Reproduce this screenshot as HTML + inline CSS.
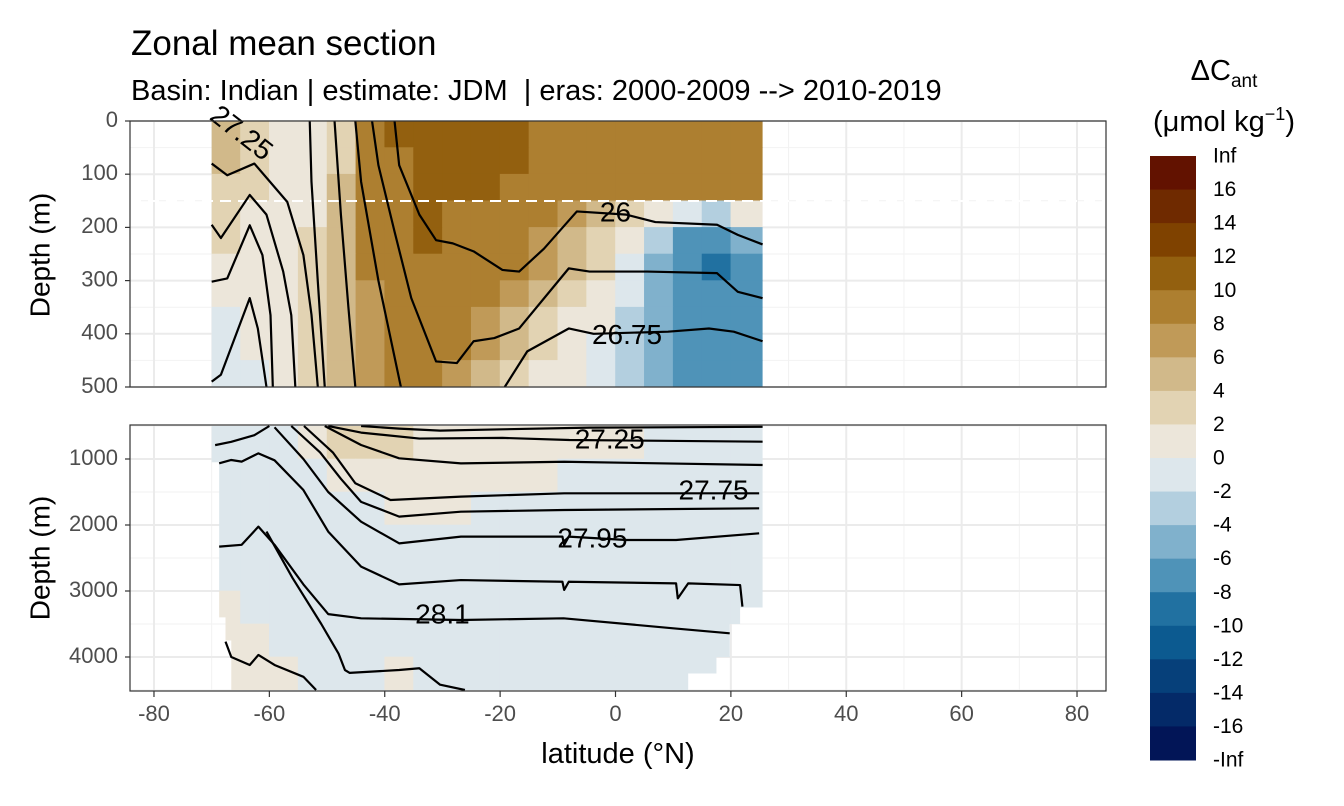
<!DOCTYPE html>
<html><head><meta charset="utf-8"><style>
html,body{margin:0;padding:0;background:#fff;}
svg{display:block;font-family:"Liberation Sans",sans-serif;}
</style></head><body>
<svg id="chart" width="1344" height="806" viewBox="0 0 1344 806" xmlns="http://www.w3.org/2000/svg">
<rect x="0" y="0" width="1344" height="806" fill="#fff"/>
<text x="131" y="55" font-size="35" fill="#000">Zonal mean section</text>
<text x="131" y="100" font-size="29" fill="#000">Basin: Indian | estimate: JDM&#160; | eras: 2000-2009 --&gt; 2010-2019</text>
<g id="gTopGrid"></g>
<g id="gBotGrid"></g>
<defs>
<clipPath id="clipTop"><rect id="clipTopRect" x="0" y="121" width="0" height="266"/></clipPath>
<clipPath id="clipBot"><polygon id="clipBotPoly" points=""/></clipPath>
<clipPath id="panelTop"><rect x="130" y="121" width="976" height="266"/></clipPath>
<clipPath id="panelBot"><rect x="130" y="425" width="976" height="266"/></clipPath>
</defs>
<g id="gTopCells" clip-path="url(#clipTop)"></g>
<g id="gBotCells" clip-path="url(#clipBot)"></g>
<line x1="130" y1="201" x2="1106" y2="201" id="mldLine" stroke="#fff" stroke-width="2" stroke-dasharray="11,7"/>
<g id="gTopLines" clip-path="url(#panelTop)"></g>
<g id="gBotLines" clip-path="url(#panelBot)"></g>
<g id="gLabels" font-size="28" fill="#000"></g>
<rect x="130" y="121" width="976" height="266" fill="none" stroke="#333" stroke-width="1.2"/>
<rect x="130" y="425" width="976" height="266" fill="none" stroke="#333" stroke-width="1.2"/>
<g id="gAxes" font-size="22" fill="#4d4d4d"></g>
<text x="42" y="255" font-size="28" text-anchor="middle" transform="rotate(-90 42 255)" dominant-baseline="middle">Depth (m)</text>
<text x="42" y="558" font-size="28" text-anchor="middle" transform="rotate(-90 42 558)" dominant-baseline="middle">Depth (m)</text>
<text x="618" y="763" font-size="29" text-anchor="middle">latitude (°N)</text>
<text x="1224" y="80" font-size="29" text-anchor="middle">ΔC<tspan font-size="19" dy="7">ant</tspan></text>
<text x="1224" y="131" font-size="29" text-anchor="middle">(μmol kg<tspan font-size="18" dy="-11">−1</tspan><tspan dy="11">)</tspan></text>
<g id="gLegend"></g>
</svg>
<script>
// ---- data ----
const latCenters = [-67.5,-62.5,-57.5,-52.5,-47.5,-42.5,-37.5,-32.5,-27.5,-22.5,-17.5,-12.5,-7.5,-2.5,2.5,7.5,12.5,17.5,22.5];
const topDepthEdges = [0,50,100,150,200,250,300,350,400,450,500];
const topValues = [
[5,3,1,1,3,9,11,11,11,11,11,9,9,9,9,9,9,9,9],
[5,3,1,1,3,9,9,11,11,11,11,9,9,9,9,9,9,9,9],
[3,3,1,1,5,9,9,11,11,11,9,9,9,9,9,9,9,9,9],
[3,1,1,1,5,9,9,11,9,9,9,9,7,5,3,1,-1,-3,1],
[3,1,1,3,5,9,9,11,9,9,9,7,5,3,1,-3,-7,-7,-5],
[1,1,1,3,5,9,9,9,9,9,9,7,5,3,-1,-5,-7,-9,-7],
[1,1,1,3,5,7,9,9,9,9,7,5,3,1,-1,-5,-7,-7,-7],
[-1,1,1,3,5,7,9,9,9,7,5,3,1,1,-3,-5,-7,-7,-7],
[-1,1,1,3,5,7,9,9,9,7,5,3,1,-1,-3,-5,-7,-7,-7],
[-1,-1,1,3,5,7,9,9,7,5,3,1,1,-1,-3,-5,-7,-7,-7]
];
const botDepthEdges = [500,1000,1500,2000,2500,3000,3500,4000,4500];
const botValues = [
[-1,-1,-1,1,3,3,3,1,1,1,1,1,1,1,1,-1,-1,-1,-1],
[-1,-1,-1,-1,1,1,1,1,1,1,1,1,-1,-1,-1,-1,-1,-1,-1],
[-1,-1,-1,-1,-1,-1,1,1,1,-1,-1,-1,-1,-1,-1,-1,-1,-1,-1],
[-1,-1,-1,-1,-1,-1,-1,-1,-1,-1,-1,-1,-1,-1,-1,-1,-1,-1,-1],
[-1,-1,-1,-1,-1,-1,-1,-1,-1,-1,-1,-1,-1,-1,-1,-1,-1,-1,-1],
[1,-1,-1,-1,-1,-1,-1,-1,-1,-1,-1,-1,-1,-1,-1,-1,-1,-1,-1],
[1,1,-1,-1,-1,-1,-1,-1,-1,-1,-1,-1,-1,-1,-1,-1,-1,-1,-1],
[1,1,1,-1,-1,-1,1,-1,-1,-1,-1,-1,-1,-1,-1,-1,-1,-1,-1]
];
const topLatRange = [-70,25.5];
// bottom data extent: [depth, leftLat, rightLat]
const botExtent = [[500,-70,25.5],[1050,-68.7,25.5],[3250,-68.7,21.6],[3400,-67.6,21.6],[3500,-67.6,19.8],[3750,-66.6,19.8],[4000,-66.6,17.5],[4250,-66.6,12.6],[4500,-66.6,12.6]];
const topContours = [
[[-70,80],[-67.3,102],[-62.6,80],[-56.9,152],[-54.1,252],[-52.7,364],[-51.6,500]],
[[-70,195],[-68.4,220],[-63.4,139],[-60.5,176],[-57.6,283],[-56.2,365],[-55.5,500]],
[[-70,302],[-67.3,296],[-63.4,196],[-61.2,252],[-59.8,365],[-59.4,500]],
[[-70,490],[-68.4,477],[-63.4,333],[-62,390],[-60.5,500]],
[[-53,0],[-52.7,114],[-51.6,302],[-50.4,500]],
[[-48.7,0],[-47.6,176],[-46.3,350],[-45.1,500]],
[[-45.1,0],[-44.1,114],[-41.1,300],[-37.2,500]],
[[-42.2,0],[-41.1,83],[-38.3,208],[-35.4,333],[-31.1,452],[-27.5,455],[-24.6,414],[-21,408],[-16.7,390],[-8.1,277],[-4.5,283],[5.5,283],[17.6,286],[21.2,321],[25.5,333]],
[[-38.3,0],[-37.5,83],[-34,176],[-31.1,224],[-28.2,230],[-24.6,245],[-19.6,280],[-16.7,283],[-12.4,240],[-6.7,170],[1.9,176],[6.9,190],[17.6,195],[21.2,214],[25.5,232]],
[[-19.2,500],[-15.3,433],[-8.1,390],[-3.8,400],[9.1,396],[16.2,390],[20.5,396],[25.5,414]]
];
const botContours = [
[[-44.1,500],[-37.5,540],[-30.4,570],[-19.6,550],[-4.5,525],[25.5,512]],
[[-49.8,500],[-44.1,600],[-34,690],[-19.6,680],[-8,712],[25.5,738]],
[[-50.4,500],[-44.1,788],[-37.5,990],[-26.8,1066],[-8.9,1042],[25.5,1091]],
[[-54,500],[-49,900],[-45.1,1368],[-39,1621],[-26.8,1570],[-8.9,1520],[24.9,1520]],
[[-56.2,500],[-51.2,900],[-47.6,1300],[-44.1,1650],[-37.5,1873],[-26.8,1798],[-8.9,1773],[24.9,1747]],
[[-59.1,520],[-54.1,1000],[-49.8,1500],[-44.1,1950],[-37.5,2278],[-26.8,2176],[-9.2,2176],[-8.9,2303],[-8.1,2176],[1.9,2227],[10.5,2227],[24.9,2126]],
[[-69.4,790],[-66.6,740],[-62.6,640],[-60,500]],
[[-68.7,1066],[-66.6,1015],[-64.8,1040],[-61.9,914],[-59.1,1020],[-54.1,1470],[-49.8,2100],[-44.1,2631],[-37.5,2900],[-26.8,2834],[-9.2,2860],[-8.9,2984],[-8.1,2860],[10.5,2884],[10.8,3111],[12.6,2884],[21.6,2910],[22,3237]],
[[-68.7,2328],[-64.8,2300],[-61.9,2025],[-59.1,2300],[-54.1,2900],[-49.8,3350],[-44.1,3414],[-26.8,3439],[-9,3414],[10,3565],[19.8,3641]],
[[-67.6,3767],[-66.6,4000],[-63.4,4121],[-61.9,3969],[-59.1,4121],[-54.1,4300],[-51.9,4500]],
[[-60.5,2100],[-56,2800],[-51,3500],[-48,3950],[-46.9,4197],[-46.1,4240],[-37.5,4197],[-34,4170],[-30.4,4420],[-26.1,4500]]
];
const contourLabels = ["27.25","26","26.75","27.25","27.75","27.95","28.1"];
const labelLat = [-65,0,2,-1,17,-4,-30];
const labelDepth = [25,175,405,732,1500,2230,3380];
const labelPanel = ["top","top","top","bot","bot","bot","bot"];
const xTicks = [-80,-60,-40,-20,0,20,40,60,80];
const xMinor = [-70,-50,-30,-10,10,30,50,70];
const topYTicks = [0,100,200,300,400,500];
const topYMinor = [50,150,250,350,450];
const botYTicks = [1000,2000,3000,4000];
const botYMinor = [500,1500,2500,3500,4500];
const legendLabels = ["Inf","16","14","12","10","8","6","4","2","0","-2","-4","-6","-8","-10","-12","-14","-16","-Inf"];
const binEdges = [-16,-14,-12,-10,-8,-6,-4,-2,0,2,4,6,8,10,12,14,16];
const binColors = ["#021557","#042a68","#06407a","#0c5a90","#2171a1","#4f93b8","#80b1cc","#b3cfdf","#dde7ec","#ece6da","#e2d3b3","#d1b98a","#c09a58","#ad7f30","#93600f","#7f4200","#6f2a00","#621200"];

// ---- scales ----
const NS="http://www.w3.org/2000/svg";
const xs = lat => 615.5 + lat*5.769;
const yTop = d => 121 + d*0.532;
const yBot = d => 426 + (d-500)*0.066;
function colorOf(v){let i=0;while(i<binEdges.length && v>=binEdges[i]) i++;return binColors[i];}
function mk(tag,attrs,parent){const e=document.createElementNS(NS,tag);for(const k in attrs)e.setAttribute(k,attrs[k]);parent.appendChild(e);return e;}

// grids
function grid(g,yf,ticks,minor,y0,y1){
  xMinor.forEach(v=>{const l=mk('line',{x1:xs(v),x2:xs(v),y1:y0,y2:y1,stroke:'#f2f2f2','stroke-width':1},g);});
  minor.forEach(v=>{const l=mk('line',{x1:130,x2:1106,y1:yf(v),y2:yf(v),stroke:'#f2f2f2','stroke-width':1},g);});
  xTicks.forEach(v=>{const l=mk('line',{x1:xs(v),x2:xs(v),y1:y0,y2:y1,stroke:'#ebebeb','stroke-width':2},g);});
  ticks.forEach(v=>{const l=mk('line',{x1:130,x2:1106,y1:yf(v),y2:yf(v),stroke:'#ebebeb','stroke-width':2},g);});
}
grid(document.getElementById('gTopGrid'),yTop,topYTicks,topYMinor,121,387);
grid(document.getElementById('gBotGrid'),yBot,botYTicks,botYMinor,425,691);

// clip regions
const ctr=document.getElementById('clipTopRect');
ctr.setAttribute('x',xs(topLatRange[0]));ctr.setAttribute('width',xs(topLatRange[1])-xs(topLatRange[0]));
let pts=[];
for(let i=0;i<botExtent.length-1;i++){pts.push([xs(botExtent[i][1]),yBot(botExtent[i][0])]);pts.push([xs(botExtent[i][1]),yBot(botExtent[i+1][0])]);}
for(let i=botExtent.length-2;i>=0;i--){pts.push([xs(botExtent[i][2]),yBot(botExtent[i+1][0])]);pts.push([xs(botExtent[i][2]),yBot(botExtent[i][0])]);}
document.getElementById('clipBotPoly').setAttribute('points',pts.map(p=>p.join(',')).join(' '));

// cells
function cells(g,vals,edges,yf){
  vals.forEach((row,r)=>row.forEach((v,c)=>{
    const x0=xs(latCenters[c]-2.5), x1=c===latCenters.length-1?xs(latCenters[c]+3):xs(latCenters[c]+2.5);
    const e=mk('rect',{x:x0-0.3,y:yf(edges[r])-0.3,width:x1-x0+0.6,height:yf(edges[r+1])-yf(edges[r])+0.6,fill:colorOf(v)},g);
    
    
  }));
}
cells(document.getElementById('gTopCells'),topValues,topDepthEdges,yTop);
cells(document.getElementById('gBotCells'),botValues,botDepthEdges,yBot);

// contour lines
function lines(g,list,yf){
  list.forEach(c=>{
    const e=mk('polyline',{points:c.map(p=>xs(p[0])+','+yf(p[1])).join(' '),fill:'none',stroke:'#000','stroke-width':2.2,'stroke-linejoin':'round'},g);
    
    
  });
}
lines(document.getElementById('gTopLines'),topContours,yTop);
lines(document.getElementById('gBotLines'),botContours,yBot);

// labels
const gl=document.getElementById('gLabels');
contourLabels.forEach((t,i)=>{
  const x=xs(labelLat[i]), y=(labelPanel[i]==='top'?yTop:yBot)(labelDepth[i]);
  const a={x:x,y:y,'text-anchor':'middle','dominant-baseline':'middle'};
  if(i===0) a.transform='rotate(38 '+x+' '+y+')';
  const e=mk('text',a,gl);e.textContent=t;
  
  
});

// axes
const ga=document.getElementById('gAxes');
function tick(x1,y1,x2,y2){const e=mk('line',{x1,y1,x2,y2,stroke:'#333','stroke-width':1.2},ga);}
topYTicks.forEach(v=>{tick(125,yTop(v),130,yTop(v));const e=mk('text',{x:118,y:yTop(v),'text-anchor':'end','dominant-baseline':'middle'},ga);e.textContent=v;});
botYTicks.forEach(v=>{tick(125,yBot(v),130,yBot(v));const e=mk('text',{x:118,y:yBot(v),'text-anchor':'end','dominant-baseline':'middle'},ga);e.textContent=v;});
xTicks.forEach(v=>{tick(xs(v),691,xs(v),697);const e=mk('text',{x:xs(v),y:721,'text-anchor':'middle'},ga);e.textContent=v;});

// legend
const gL=document.getElementById('gLegend');
const bh=(760-156)/18;
for(let i=0;i<18;i++){
  const e=mk('rect',{x:1150,y:156+i*bh,width:46,height:bh+0.5,fill:binColors[17-i]},gL);
  
  
}
legendLabels.forEach((t,i)=>{
  const e=mk('text',{x:1213,y:157+i*bh,'font-size':21,fill:'#000','dominant-baseline':'middle'},gL);
  e.textContent=t;
  
  
});
</script>
</body></html>
